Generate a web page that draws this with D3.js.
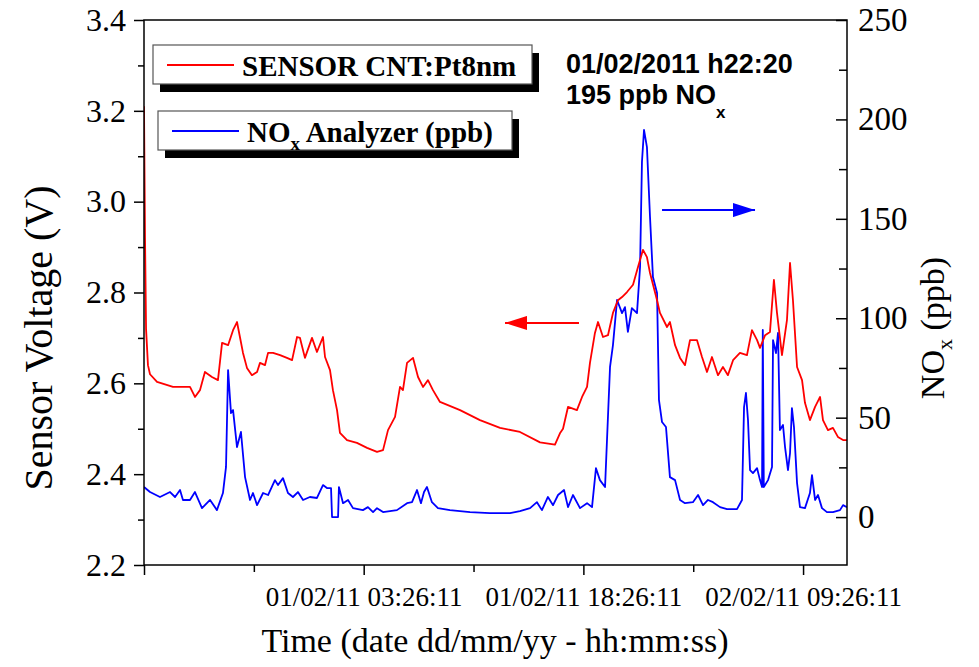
<!DOCTYPE html>
<html>
<head>
    <meta charset="utf-8">
    <title>Sensor CNT:Pt8nm vs NOx analyzer</title>
    <script src="https://cdn.jsdelivr.net/npm/d3@7"></script>
    <style>
        body {
            margin: 0;
            background: white;
        }
    </style>
</head>
<body>
<div class="mainView"></div>
<script>
    const SERIF = '"Liberation Serif", "Times New Roman", serif';
    const SANS = '"Liberation Sans", Arial, sans-serif';

    // hours since 31/01/11 12:26:11, sensor voltage (V)
    let sensorData = [
        [0, 3.21], [0.07, 2.92], [0.14, 2.72], [0.27, 2.64], [0.41, 2.62], [0.89, 2.603],
        [1.98, 2.592], [3.14, 2.592], [3.48, 2.570], [3.82, 2.585], [4.16, 2.625], [4.64, 2.614],
        [5.05, 2.607], [5.33, 2.689], [5.74, 2.684], [6.08, 2.717], [6.35, 2.735], [6.55, 2.702],
        [6.76, 2.667], [7.03, 2.634], [7.37, 2.618], [7.72, 2.625], [7.92, 2.645], [8.26, 2.640],
        [8.47, 2.667], [8.81, 2.667], [9.29, 2.662], [9.76, 2.656], [10.11, 2.651], [10.45, 2.702],
        [10.65, 2.700], [10.99, 2.656], [11.47, 2.700], [11.81, 2.669], [12.22, 2.702], [12.36, 2.658],
        [12.70, 2.629], [12.90, 2.585], [13.18, 2.541], [13.38, 2.491], [13.86, 2.475], [14.54, 2.469],
        [15.23, 2.458], [15.91, 2.449], [16.32, 2.453], [16.66, 2.497], [17.14, 2.526], [17.48, 2.592],
        [17.68, 2.585], [17.96, 2.645], [18.37, 2.656], [18.71, 2.614], [19.05, 2.592], [19.39, 2.607],
        [19.73, 2.585], [20.21, 2.559], [21.58, 2.541], [22.94, 2.519], [24.31, 2.502], [25.67, 2.493],
        [27.04, 2.470], [28.06, 2.465], [28.40, 2.490], [28.61, 2.500], [28.95, 2.548], [29.56, 2.541],
        [29.91, 2.570], [30.25, 2.592], [30.45, 2.645], [30.79, 2.711], [31.00, 2.735], [31.34, 2.702],
        [31.68, 2.706], [32.02, 2.755], [32.36, 2.783], [32.64, 2.790], [32.98, 2.801], [33.39, 2.817],
        [33.73, 2.856], [34.07, 2.894], [34.34, 2.878], [34.55, 2.843], [35.03, 2.783], [35.23, 2.755],
        [35.71, 2.724], [35.91, 2.735], [36.26, 2.684], [36.60, 2.656], [36.94, 2.640], [37.28, 2.695],
        [37.76, 2.695], [38.10, 2.658], [38.44, 2.625], [38.78, 2.658], [39.19, 2.618], [39.53, 2.636],
        [39.87, 2.618], [40.22, 2.651], [40.69, 2.667], [41.17, 2.662], [41.51, 2.717], [41.86, 2.695],
        [42.06, 2.678], [42.41, 2.706], [42.74, 2.713], [43.01, 2.828], [43.22, 2.755], [43.56, 2.662],
        [43.90, 2.739], [44.11, 2.865], [44.31, 2.783], [44.59, 2.636], [44.93, 2.607], [45.13, 2.557],
        [45.47, 2.519], [45.82, 2.548], [46.16, 2.570], [46.36, 2.519], [46.70, 2.497], [47.04, 2.502],
        [47.38, 2.482], [47.73, 2.475], [48.0, 2.475]
    ];

    // hours since 31/01/11 12:26:11, NOx analyzer (ppb)
    let noxData = [
        [0, 15.1], [0.41, 12.6], [1.09, 10.1], [1.78, 12.6], [2.12, 10.1], [2.46, 13.6], [2.66, 8.6],
        [3.14, 8.6], [3.48, 12.6], [3.96, 4.5], [4.51, 8.6], [4.98, 3.5], [5.39, 12.1], [5.60, 25.2],
        [5.74, 73.9], [5.94, 52.3], [6.08, 53.8], [6.35, 35.2], [6.62, 42.8], [6.90, 20.1], [7.24, 8.6],
        [7.44, 12.1], [7.72, 6.0], [8.13, 12.1], [8.47, 11.1], [8.94, 18.6], [9.15, 16.1], [9.49, 19.6],
        [9.83, 12.1], [10.17, 10.1], [10.51, 12.6], [10.86, 8.6], [11.33, 10.1], [11.81, 9.6], [12.22, 16.1],
        [12.49, 14.6], [12.77, 14.6], [12.84, 0], [13.25, 0], [13.31, 15.1], [13.59, 7.0], [13.93, 8.6],
        [14.27, 4.5], [14.95, 3.5], [15.29, 5.0], [15.64, 2.5], [15.91, 4.5], [16.32, 2.5], [17.27, 3.5],
        [17.96, 7.0], [18.30, 7.5], [18.64, 13.6], [18.91, 7.0], [19.12, 12.6], [19.32, 15.1], [19.66, 7.5],
        [20.07, 4.5], [20.89, 3.5], [22.26, 2.5], [23.62, 2.0], [24.99, 2.0], [25.67, 3.0], [26.36, 4.5],
        [26.83, 7.5], [27.17, 3.5], [27.58, 10.1], [27.93, 6.0], [28.27, 11.1], [28.68, 13.6], [28.95, 5.0],
        [29.29, 11.1], [29.77, 4.5], [30.25, 7.0], [30.59, 5.0], [30.86, 24.6], [31.13, 18.6], [31.48, 15.1],
        [31.82, 75.5], [32.02, 86.5], [32.30, 109.2], [32.64, 102.6], [32.84, 105.6], [33.04, 93.1],
        [33.31, 105.1], [33.66, 102.6], [33.87, 125.8], [34.00, 178.6], [34.14, 194.7], [34.34, 186.1],
        [34.55, 150.9], [34.75, 120.7], [35.03, 112.7], [35.16, 58.9], [35.37, 47.8], [35.64, 45.3],
        [35.91, 20.1], [36.26, 18.6], [36.60, 8.6], [36.94, 7.0], [37.48, 7.5], [37.83, 11.1], [38.17, 6.0],
        [38.51, 8.6], [38.85, 7.5], [39.33, 5.0], [39.81, 4.0], [40.49, 4.0], [40.83, 8.6], [40.97, 55.3],
        [41.10, 62.4], [41.24, 48.8], [41.38, 23.6], [41.58, 22.1], [41.86, 24.6], [42.06, 18.6],
        [42.20, 15.1], [42.25, 94.1], [42.32, 15.1], [42.61, 18.6], [42.88, 25.2], [42.95, 89.0],
        [43.15, 82.5], [43.29, 92.6], [43.42, 43.8], [43.63, 46.3], [43.77, 35.2], [43.97, 23.6],
        [44.11, 32.2], [44.24, 54.8], [44.38, 45.3], [44.59, 17.1], [44.79, 5.0], [45.13, 4.5],
        [45.47, 12.1], [45.61, 21.1], [45.82, 8.6], [46.02, 11.1], [46.29, 4.5], [46.63, 2.5],
        [47.04, 2.5], [47.52, 3.5], [47.73, 6.0], [48.0, 5.0]
    ];

    let xDomain = [0, 48];
    let xMajorTicks = [0, 15, 30, 45];
    let xMinorTicks = [7.5, 22.5, 37.5];
    let xTickLabels = ["", "01/02/11 03:26:11", "01/02/11 18:26:11", "02/02/11 09:26:11"];

    let voltDomain = [2.2, 3.4];
    let voltMajorTicks = [2.2, 2.4, 2.6, 2.8, 3.0, 3.2, 3.4];
    let voltMinorTicks = [2.3, 2.5, 2.7, 2.9, 3.1, 3.3];

    let noxDomain = [-24.1, 250];
    let noxMajorTicks = [0, 50, 100, 150, 200, 250];
    let noxMinorTicks = [25, 75, 125, 175, 225];

    // arrows: [x from, x to, level]
    let sensorArrow = [29.7, 24.65, 2.733];
    let noxArrow = [35.37, 41.72, 154.4];

    function getChartConfig() {
        let width = 979;
        let height = 667;
        let margin = { top: 20, left: 144, right: 132, bottom: 102 };
        let bodyWidth = width - margin.left - margin.right;
        let bodyHeight = height - margin.top - margin.bottom;
        let svg = d3.select(".mainView")
            .append("svg")
            .attr("width", width)
            .attr("height", height);
        let container = svg.append("g")
            .attr("transform", "translate(" + [margin.left, margin.top] + ")");
        return { width, height, margin, bodyWidth, bodyHeight, svg, container };
    }

    function getChartScales(config) {
        let { bodyWidth, bodyHeight } = config;
        let xScale = d3.scaleLinear().domain(xDomain).range([0, bodyWidth]);
        let yLeft = d3.scaleLinear().domain(voltDomain).range([bodyHeight, 0]);
        let yRight = d3.scaleLinear().domain(noxDomain).range([bodyHeight, 0]);
        return { xScale, yLeft, yRight };
    }

    function styleAxis(g, size) {
        g.attr("font-family", null);
        g.select(".domain").remove();
        g.selectAll("line").attr("stroke", "#000").attr("stroke-width", 1.5);
        g.selectAll("text")
            .style("font-family", SERIF)
            .style("font-size", size + "px")
            .attr("fill", "#000");
    }

    function drawAxes(scales, config) {
        let { xScale, yLeft, yRight } = scales;
        let { container, bodyWidth, bodyHeight } = config;

        // bottom
        container.append("g")
            .attr("transform", "translate(0," + bodyHeight + ")")
            .call(d3.axisBottom(xScale).tickValues(xMinorTicks).tickSize(7).tickFormat(""))
            .call(g => styleAxis(g, 27));
        container.append("g")
            .attr("transform", "translate(0," + bodyHeight + ")")
            .call(d3.axisBottom(xScale).tickValues(xMajorTicks).tickSize(10).tickPadding(12)
                .tickFormat((d, i) => xTickLabels[i]))
            .call(g => styleAxis(g, 27));

        // left
        container.append("g")
            .call(d3.axisLeft(yLeft).tickValues(voltMinorTicks).tickSize(6).tickFormat(""))
            .call(g => styleAxis(g, 32));
        container.append("g")
            .call(d3.axisLeft(yLeft).tickValues(voltMajorTicks).tickSize(10).tickPadding(8)
                .tickFormat(d3.format(".1f")))
            .call(g => styleAxis(g, 32));

        // right, ticks pointing in
        container.append("g")
            .attr("transform", "translate(" + bodyWidth + ",0)")
            .call(d3.axisRight(yRight).tickValues(noxMinorTicks).tickSize(-8).tickFormat(""))
            .call(g => styleAxis(g, 33));
        container.append("g")
            .attr("transform", "translate(" + bodyWidth + ",0)")
            .call(d3.axisRight(yRight).tickValues(noxMajorTicks).tickSize(-11).tickPadding(11)
                .tickFormat(d3.format("d")))
            .call(g => styleAxis(g, 33));

        // frame
        container.append("rect")
            .attr("width", bodyWidth)
            .attr("height", bodyHeight)
            .attr("fill", "none")
            .attr("stroke", "#000")
            .attr("stroke-width", 1.5);

        // titles
        config.svg.append("text")
            .style("font-family", SERIF)
            .attr("x", 495)
            .attr("y", 652)
            .attr("text-anchor", "middle")
            .style("font-size", "34px")
            .text("Time (date dd/mm/yy - hh:mm:ss)");

        config.svg.append("text")
            .style("font-family", SERIF)
            .attr("transform", "translate(52,338) rotate(-90)")
            .attr("text-anchor", "middle")
            .style("font-size", "40px")
            .text("Sensor Voltage (V)");

        let rt = config.svg.append("text")
            .style("font-family", SERIF)
            .attr("transform", "translate(944,328) rotate(-90)")
            .attr("text-anchor", "middle")
            .style("font-size", "34px");
        rt.append("tspan").text("NO");
        rt.append("tspan").attr("dy", 8).style("font-size", "22px").text("x");
        rt.append("tspan").attr("dy", -8).text(" (ppb)");
    }

    function drawLines(scales, config) {
        let { xScale, yLeft, yRight } = scales;
        let { container } = config;

        container.append("clipPath").attr("id", "plotClip")
            .append("rect")
            .attr("width", config.bodyWidth)
            .attr("height", config.bodyHeight);

        let sensorLine = d3.line()
            .x(d => xScale(d[0]))
            .y(d => yLeft(d[1]));
        let noxLine = d3.line()
            .x(d => xScale(d[0]))
            .y(d => yRight(d[1]));

        container.append("path")
            .datum(noxData)
            .attr("clip-path", "url(#plotClip)")
            .attr("d", noxLine)
            .attr("fill", "none")
            .attr("stroke", "#0000ff")
            .attr("stroke-width", 1.8)
            .attr("stroke-linejoin", "round");

        container.append("path")
            .datum(sensorData)
            .attr("clip-path", "url(#plotClip)")
            .attr("d", sensorLine)
            .attr("fill", "none")
            .attr("stroke", "#ff0000")
            .attr("stroke-width", 1.8)
            .attr("stroke-linejoin", "round");

        // arrows
        let defs = config.svg.append("defs");
        [["redHead", "#ff0000"], ["blueHead", "#0000ff"]].forEach(m => {
            defs.append("marker")
                .attr("id", m[0])
                .attr("viewBox", "0 0 22 14")
                .attr("refX", 22)
                .attr("refY", 7)
                .attr("markerWidth", 22)
                .attr("markerHeight", 14)
                .attr("markerUnits", "userSpaceOnUse")
                .attr("orient", "auto")
                .append("path")
                .attr("d", "M0,0 L22,7 L0,14 Z")
                .attr("fill", m[1]);
        });

        container.append("line")
            .attr("x1", xScale(sensorArrow[0]))
            .attr("x2", xScale(sensorArrow[1]))
            .attr("y1", yLeft(sensorArrow[2]))
            .attr("y2", yLeft(sensorArrow[2]))
            .attr("stroke", "#ff0000")
            .attr("stroke-width", 2)
            .attr("marker-end", "url(#redHead)");

        container.append("line")
            .attr("x1", xScale(noxArrow[0]))
            .attr("x2", xScale(noxArrow[1]))
            .attr("y1", yRight(noxArrow[2]))
            .attr("y2", yRight(noxArrow[2]))
            .attr("stroke", "#0000ff")
            .attr("stroke-width", 2)
            .attr("marker-end", "url(#blueHead)");
    }

    function drawLegend(config) {
        let svg = config.svg;
        let boxes = [
            { x: 153, y: 45, w: 379, h: 39, color: "#ff0000", label: ["SENSOR CNT:Pt8nm"] },
            { x: 158, y: 111, w: 354, h: 39, color: "#0000ff", label: ["NO", "x", " Analyzer (ppb)"] }
        ];
        boxes.forEach(b => {
            svg.append("rect")
                .attr("x", b.x + 7).attr("y", b.y + 8)
                .attr("width", b.w).attr("height", b.h)
                .attr("fill", "#000");
            svg.append("rect")
                .attr("x", b.x).attr("y", b.y)
                .attr("width", b.w).attr("height", b.h)
                .attr("fill", "#fff")
                .attr("stroke", "#555")
                .attr("stroke-width", 1.2);
            svg.append("line")
                .attr("x1", b.x + 14).attr("x2", b.x + 81)
                .attr("y1", b.y + 20).attr("y2", b.y + 20)
                .attr("stroke", b.color)
                .attr("stroke-width", 1.8);
            let t = svg.append("text")
                .style("font-family", SERIF)
                .attr("x", b.x + 89)
                .attr("y", b.y + 31)
                .style("font-size", "29px")
                .style("font-weight", "bold");
            if (b.label.length == 1) {
                t.text(b.label[0]);
            } else {
                t.append("tspan").text(b.label[0]);
                t.append("tspan").attr("dy", 8).style("font-size", "19px").text(b.label[1]);
                t.append("tspan").attr("dy", -8).text(b.label[2]);
            }
        });

        // peak note
        svg.append("text")
            .style("font-family", SANS)
            .style("font-size", "27px")
            .style("font-weight", "bold")
            .attr("x", 566)
            .attr("y", 73)
            .text("01/02/2011 h22:20");
        let n = svg.append("text")
            .style("font-family", SANS)
            .style("font-size", "27px")
            .style("font-weight", "bold")
            .attr("x", 566)
            .attr("y", 104);
        n.append("tspan").text("195 ppb NO");
        n.append("tspan").attr("dy", 14).style("font-size", "17px").text("x");
    }

    function showData() {
        let config = getChartConfig();
        let scales = getChartScales(config);
        drawLines(scales, config);
        drawAxes(scales, config);
        drawLegend(config);
    }
    showData();
</script>
</body>
</html>
